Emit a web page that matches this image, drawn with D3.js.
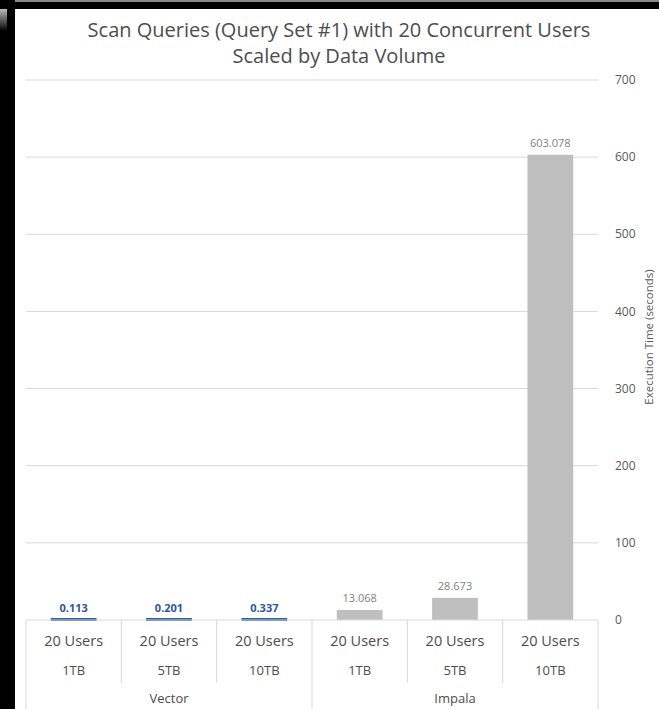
<!DOCTYPE html>
<html>
<head>
<meta charset="utf-8">
<script src="https://cdn.jsdelivr.net/npm/d3@7"></script>
<style>
  body { margin: 0; background: #fff; }
  text { font-family: "Open Sans", sans-serif; }
</style>
</head>
<body>
<div id="chart"></div>
<script>
// data
const groups = ["Vector", "Vector", "Vector", "Impala", "Impala", "Impala"];
const users = ["20 Users", "20 Users", "20 Users", "20 Users", "20 Users", "20 Users"];
const sizes = ["1TB", "5TB", "10TB", "1TB", "5TB", "10TB"];
const times = [0.113, 0.201, 0.337, 13.068, 28.673, 603.078];
const yTicks = [0, 100, 200, 300, 400, 500, 600, 700];

const W = 659, H = 709;
const plot = { left: 26, right: 598, top: 80, bottom: 620 };

const svg = d3.select("#chart").append("svg")
  .attr("width", W)
  .attr("height", H);

// photo frame (black border on the left and top)
svg.append("rect").attr("x", 0).attr("y", 0).attr("width", W).attr("height", 9).attr("fill", "#000");
svg.append("rect").attr("x", 0).attr("y", 0).attr("width", W).attr("height", 2).attr("fill", "#8a8a8a");
svg.append("rect").attr("x", 0).attr("y", 0).attr("width", 15).attr("height", H).attr("fill", "#000");
const grad = svg.append("defs").append("linearGradient").attr("id", "fade")
  .attr("x1", 0).attr("y1", 0).attr("x2", 0).attr("y2", 1);
grad.append("stop").attr("offset", 0).attr("stop-color", "#bbb");
grad.append("stop").attr("offset", 1).attr("stop-color", "#000");
svg.append("rect").attr("x", 0).attr("y", 9).attr("width", 7).attr("height", 22).attr("fill", "url(#fade)");

const ids = times.map((d, i) => i);

const x = d3.scaleBand()
  .domain(ids)
  .range([plot.left, plot.right])
  .paddingInner(0.52)
  .paddingOuter(0.26);

const y = d3.scaleLinear()
  .domain([0, 700])
  .range([plot.bottom, plot.top]);

// gridlines
svg.append("g")
  .selectAll("line")
  .data(yTicks.filter(d => d > 0))
  .join("line")
  .attr("x1", plot.left)
  .attr("x2", plot.right)
  .attr("y1", d => y(d))
  .attr("y2", d => y(d))
  .attr("stroke", "#d9d9d9")
  .attr("stroke-width", 1);

// right axis labels
svg.append("g")
  .selectAll("text")
  .data(yTicks)
  .join("text")
  .attr("x", 615)
  .attr("y", d => y(d))
  .attr("dy", "0.35em")
  .style("font-size", "12px")
  .style("fill", "#595959")
  .text(d => d);

svg.append("text")
  .attr("transform", `translate(649, ${(plot.top + plot.bottom) / 2 - 13}) rotate(-90)`)
  .attr("text-anchor", "middle")
  .attr("dy", "0.35em")
  .style("font-size", "11.5px")
  .style("fill", "#595959")
  .text("Execution Time (seconds)");

// bars
svg.append("g")
  .selectAll("rect")
  .data(ids)
  .join("rect")
  .attr("x", i => x(i))
  .attr("width", x.bandwidth())
  .attr("y", i => groups[i] === "Vector" ? y(0) - 2 : y(times[i]))
  .attr("height", i => groups[i] === "Vector" ? 3 : y(0) - y(times[i]))
  .attr("fill", i => groups[i] === "Vector" ? "#2f5ba3" : "#bfbfbf");

// value labels
svg.append("g")
  .selectAll("text")
  .data(ids)
  .join("text")
  .attr("x", i => x(i) + x.bandwidth() / 2)
  .attr("y", i => y(times[i]) - 8)
  .attr("text-anchor", "middle")
  .style("font-size", "11px")
  .style("font-weight", i => groups[i] === "Vector" ? "bold" : "normal")
  .style("fill", i => groups[i] === "Vector" ? "#2f5597" : "#7f7f7f")
  .text(i => times[i].toFixed(3));

// category axis box
const step = x.step();
const axisG = svg.append("g");
axisG.append("line")
  .attr("x1", plot.left).attr("x2", plot.right)
  .attr("y1", plot.bottom).attr("y2", plot.bottom)
  .attr("stroke", "#d9d9d9");

const edges = d3.range(ids.length + 1).map(k => plot.left + k * step);
axisG.selectAll("line.div")
  .data(edges)
  .join("line")
  .attr("class", "div")
  .attr("x1", d => d).attr("x2", d => d)
  .attr("y1", plot.bottom)
  .attr("y2", (d, k) => (k === 0 || k === ids.length || groups[k] !== groups[k - 1]) ? H : 683)
  .attr("stroke", "#d9d9d9");

axisG.selectAll("text.users")
  .data(ids)
  .join("text")
  .attr("class", "users")
  .attr("x", i => plot.left + (i + 0.5) * step)
  .attr("y", 646)
  .attr("text-anchor", "middle")
  .style("font-size", "14.5px")
  .style("fill", "#4d4d4d")
  .text(i => users[i]);

axisG.selectAll("text.size")
  .data(ids)
  .join("text")
  .attr("class", "size")
  .attr("x", i => plot.left + (i + 0.5) * step)
  .attr("y", 675)
  .attr("text-anchor", "middle")
  .style("font-size", "13px")
  .style("fill", "#4d4d4d")
  .text(i => sizes[i]);

const groupNames = Array.from(new Set(groups));
axisG.selectAll("text.group")
  .data(groupNames)
  .join("text")
  .attr("class", "group")
  .attr("x", g => {
    const idx = ids.filter(i => groups[i] === g);
    return plot.left + (idx[0] + idx[idx.length - 1] + 1) / 2 * step;
  })
  .attr("y", 703)
  .attr("text-anchor", "middle")
  .style("font-size", "13px")
  .style("fill", "#4d4d4d")
  .text(g => g);

// title
const title = svg.append("text")
  .attr("text-anchor", "middle")
  .style("font-size", "20px")
  .style("fill", "#4d4d4d");
title.append("tspan").attr("x", 339).attr("y", 37)
  .text("Scan Queries (Query Set #1) with 20 Concurrent Users");
title.append("tspan").attr("x", 339).attr("y", 63)
  .text("Scaled by Data Volume");
</script>
</body>
</html>
